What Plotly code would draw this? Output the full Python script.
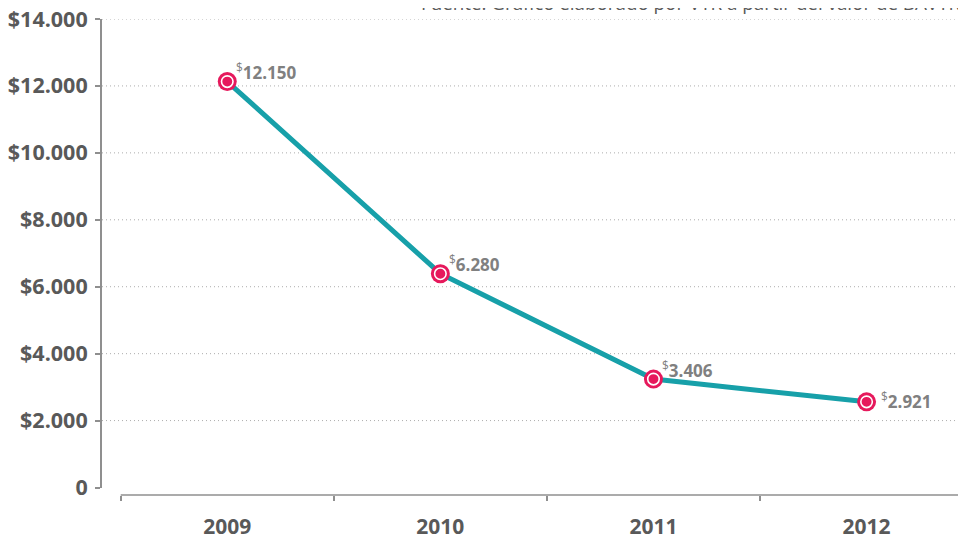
import plotly.graph_objects as go

# ---- data ----
years = ["2009", "2010", "2011", "2012"]
plotted_values = [12130, 6390, 3240, 2560]          # marker heights as drawn
value_labels = ["12.150", "6.280", "3.406", "2.921"]  # printed labels
y_ticks = [0, 2000, 4000, 6000, 8000, 10000, 12000, 14000]
y_tick_text = ["0", "$2.000", "$4.000", "$6.000", "$8.000", "$10.000", "$12.000", "$14.000"]
source_text = "Fuente: Gráfico elaborado por VTR a partir del valor de BAVTR."

# ---- styles ----
TEAL = "#17a0a9"
CRIMSON = "#e6195c"
AXIS_GRAY = "#8f8f8f"
TEXT_DARK = "#595959"
TEXT_LABEL = "#808080"
FONT = "Open Sans"

fig = go.Figure()

# line
fig.add_trace(go.Scatter(
    x=years, y=plotted_values, mode="lines",
    line=dict(color=TEAL, width=5), hoverinfo="skip", showlegend=False,
))
# outer crimson disc
fig.add_trace(go.Scatter(
    x=years, y=plotted_values, mode="markers",
    marker=dict(size=19, color=CRIMSON, line=dict(width=0)),
    hoverinfo="skip", showlegend=False,
))
# white ring + crimson core
fig.add_trace(go.Scatter(
    x=years, y=plotted_values, mode="markers",
    marker=dict(size=11.5, color=CRIMSON, line=dict(width=1.6, color="white")),
    showlegend=False,
))

# dotted gridlines (skip zero)
for v in y_ticks:
    if v == 0:
        continue
    fig.add_hline(y=v, line=dict(color="#acacac", width=1, dash="1px,3px"), layer="below")

# x axis baseline (starts at first category boundary)
fig.add_shape(type="line", xref="x", yref="paper", x0=-0.5, x1=3.6, y0=0, y1=0,
              line=dict(color=AXIS_GRAY, width=1.5))

# value labels
label_side = ["up", "up", "up", "right"]
for i, (v, lab, side) in enumerate(zip(plotted_values, value_labels, label_side)):
    fig.add_annotation(
        x=i, y=v, xref="x", yref="y",
        text=f"<sup>$</sup><b>{lab}</b>",
        showarrow=False, xanchor="left", yanchor="middle",
        xshift=7 if side == "up" else 12,
        yshift=10 if side == "up" else 1,
        font=dict(family=FONT, size=17, color=TEXT_LABEL),
    )

# source note (clipped at the top)
fig.add_annotation(
    x=1, y=1.0335, xref="paper", yref="paper",
    text=source_text, showarrow=False, xanchor="right", yanchor="middle",
    xshift=1,
    font=dict(family=FONT, size=18.8, color=TEXT_DARK),
)

# the page body adds an 8px margin, so the figure is 8px smaller each way
fig.update_layout(
    width=958, height=529,
    margin=dict(l=94, r=0, t=10.5, b=42, autoexpand=False),
    paper_bgcolor="white", plot_bgcolor="white",
    showlegend=False,
    font=dict(family=FONT),
    xaxis=dict(
        type="category", range=[-0.5878, 3.4666], automargin=False,
        tickson="boundaries", ticks="outside", ticklen=5, tickwidth=1.5, tickcolor=AXIS_GRAY,
        showline=False, showgrid=False, zeroline=False,
        anchor="free", position=0, ticklabelstandoff=17, ticklabeloverflow="allow",
        tickfont=dict(family=FONT, size=21, color=TEXT_DARK, weight="bold"),
    ),
    yaxis=dict(
        range=[0, 14000], domain=[0.0157, 1], automargin=False,
        tickvals=y_ticks, ticktext=y_tick_text,
        ticks="outside", ticklen=5, tickwidth=1.5, tickcolor=AXIS_GRAY,
        showline=True, linecolor=AXIS_GRAY, linewidth=2,
        showgrid=False, zeroline=False, ticklabelstandoff=3, ticklabeloverflow="allow",
        tickfont=dict(family=FONT, size=21.5, color=TEXT_DARK, weight="bold"),
    ),
)

fig.write_html("out.html")
